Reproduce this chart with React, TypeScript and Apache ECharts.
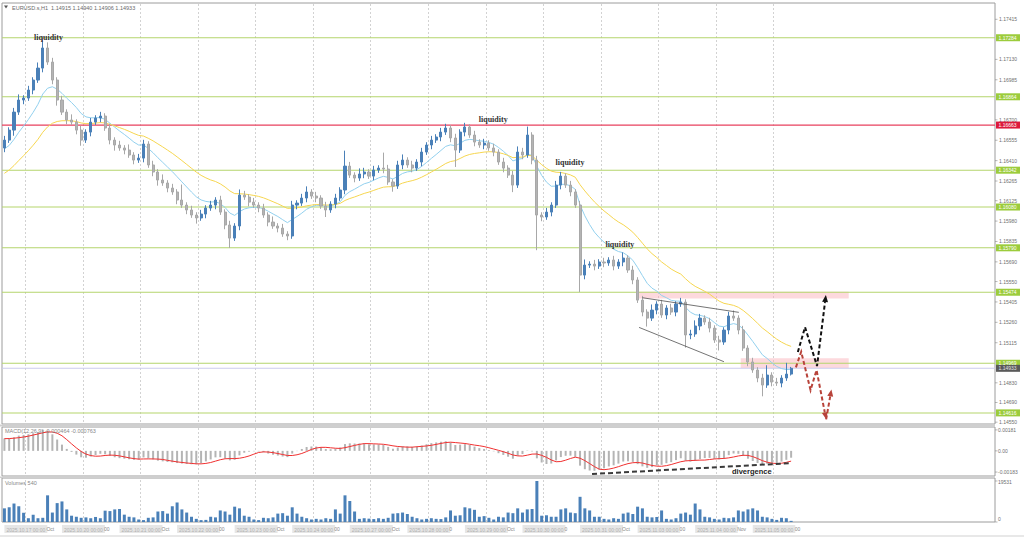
import React, { useEffect, useRef } from "react";
import * as echarts from "echarts";

// ---------- data (EURUSD.s, bars resampled to 2h from the H1 picture) ----------
const dayLabels = ["2025.10.17", "2025.10.20", "2025.10.21", "2025.10.22", "2025.10.23", "2025.10.24", "2025.10.27", "2025.10.28", "2025.10.29", "2025.10.30", "2025.10.31", "2025.11.03", "2025.11.04", "2025.11.05"];
const dayFragments = ["Oct", "00", "Oct", "00", "Oct", "00", "Oct", "0", "Oct", "0", "Oct", "00", "Nov", "00"];
const barsPerDay = 12;
const futureBars = 42;
const firstOpen = 1.165;
const closes = [
  1.16556, 1.16627, 1.16755, 1.16841, 1.16855, 1.16912, 1.16983, 1.17068, 1.17211, 1.17111,
  1.16983, 1.16841, 1.16755, 1.16699, 1.16684, 1.16627, 1.16556, 1.16613, 1.16684, 1.16713,
  1.16727, 1.16642, 1.16556, 1.16521, 1.165, 1.16485, 1.1645, 1.16414, 1.16428, 1.16528,
  1.16379, 1.16329, 1.16272, 1.16251, 1.16215, 1.16187, 1.1613, 1.16094, 1.16059, 1.16023,
  1.16002, 1.1603, 1.16073, 1.16094, 1.1613, 1.16044, 1.15952, 1.15859, 1.15945, 1.16165,
  1.16151, 1.16115, 1.16094, 1.16073, 1.16023, 1.15973, 1.15945, 1.1593, 1.15888, 1.15874,
  1.16094, 1.16108, 1.16144, 1.16187, 1.16158, 1.16144, 1.16087, 1.16059, 1.16101, 1.16144,
  1.16201, 1.16371, 1.16307, 1.16286, 1.16315, 1.16329, 1.163, 1.16343, 1.16357, 1.1635,
  1.16258, 1.16229, 1.16379, 1.16414, 1.16379, 1.16357, 1.164, 1.16471, 1.16521, 1.16556,
  1.16578, 1.16613, 1.16642, 1.16571, 1.16485, 1.16613, 1.16649, 1.16592, 1.16542, 1.16521,
  1.16535, 1.165, 1.16471, 1.164, 1.16357, 1.16307, 1.16236, 1.16471, 1.1645, 1.16592,
  1.16414, 1.16023, 1.16009, 1.16044, 1.16094, 1.16236, 1.163, 1.16236, 1.16187, 1.16094,
  1.15596, 1.15667, 1.15674, 1.1566, 1.15689, 1.15682, 1.15703, 1.1566, 1.15689, 1.15717,
  1.15632, 1.15561, 1.15418, 1.15333, 1.1529, 1.15347, 1.1539, 1.15312, 1.15362, 1.15333,
  1.1539, 1.15404, 1.1517, 1.15177, 1.15234, 1.1529, 1.15262, 1.15219, 1.15134, 1.1512,
  1.15205, 1.15305, 1.1529, 1.15205, 1.15077, 1.14978, 1.14921, 1.14864, 1.14814, 1.14885,
  1.14835, 1.14828, 1.14864, 1.14892, 1.14933,
];
const wickUpPips = [
  3, 2, 3, 4, 2, 3, 2, 4, 7, 4, 3, 2, 3, 2, 4, 2, 3, 2, 3, 2,
  3, 2, 3, 2, 3, 2, 4, 2, 3, 3, 2, 3, 2, 4, 2, 3, 2, 11, 2, 3,
  2, 3, 2, 3, 2, 3, 2, 3, 2, 4, 3, 2, 3, 2, 3, 2, 4, 2, 3, 2,
  3, 2, 3, 4, 2, 3, 2, 3, 2, 3, 2, 11, 3, 2, 4, 3, 2, 3, 2, 11,
  3, 2, 3, 4, 2, 3, 2, 3, 2, 3, 2, 3, 3, 2, 3, 2, 3, 2, 3, 2,
  3, 2, 3, 2, 3, 2, 3, 4, 3, 6, 2, 3, 2, 3, 2, 3, 3, 2, 3, 2,
  3, 4, 2, 3, 2, 3, 2, 3, 2, 4, 2, 3, 2, 3, 2, 4, 2, 3, 2, 3,
  2, 3, 2, 3, 4, 3, 2, 3, 2, 3, 2, 3, 4, 2, 3, 2, 3, 2, 3, 7,
  2, 3, 2, 8, 1,
];
const wickDownPips = [
  3, 2, 4, 2, 3, 2, 3, 2, 3, 2, 3, 4, 2, 3, 2, 3, 4, 2, 3, 2,
  3, 2, 3, 4, 2, 3, 2, 3, 2, 3, 2, 3, 4, 2, 3, 2, 3, 2, 3, 2,
  4, 2, 3, 2, 3, 2, 3, 7, 2, 3, 2, 3, 2, 3, 2, 3, 2, 3, 2, 3,
  2, 3, 2, 3, 2, 3, 2, 5, 2, 3, 2, 3, 2, 3, 2, 3, 2, 3, 2, 3,
  2, 4, 2, 3, 2, 3, 2, 3, 2, 3, 2, 3, 2, 3, 12, 2, 3, 2, 3, 2,
  3, 2, 3, 2, 3, 2, 5, 2, 3, 2, 3, 25, 3, 2, 3, 2, 3, 2, 3, 2,
  12, 3, 2, 3, 2, 3, 2, 3, 2, 3, 2, 3, 2, 3, 6, 2, 3, 2, 3, 2,
  3, 2, 9, 3, 2, 3, 2, 3, 2, 6, 2, 3, 2, 3, 2, 3, 2, 3, 8, 2,
  3, 2, 3, 2, 1,
];
const volumes = [
  6500, 7000, 8800, 7500, 4400, 1800, 3500, 1800, 2000, 12700,
  4500, 9000, 9800, 6000, 3000, 2500, 2000, 2200, 1800, 2400,
  1800, 5400, 5200, 6000, 6200, 3500, 2500, 2200, 1200, 900,
  2000, 2200, 5000, 5200, 4000, 7500, 9300, 6000, 4500, 2500,
  1500, 900, 1000, 2500, 2200, 5500, 5000, 3500, 7300, 6500,
  3000, 2500, 1200, 900, 2000, 1800, 2200, 4000, 4200, 3000,
  7000, 4000, 2500, 1800, 1200, 1500, 1200, 1800, 1500, 6000,
  4000, 12700, 10000, 5000, 1500, 1800, 1600, 1400, 1800, 1500,
  2000, 4000, 4200, 4500, 3800, 2500, 1800, 1200, 1500, 1800,
  1500, 1400, 2200, 5500, 3000, 3200, 7000, 6500, 5800, 2500,
  2800, 2000, 1200, 2500, 2200, 4500, 4200, 6500, 4500, 6000,
  6200, 19531, 3000, 3200, 2500, 2500, 6000, 6500, 4500, 4200,
  12000, 6500, 5500, 2500, 2500, 1500, 1200, 1800, 1500, 4000,
  4500, 3800, 7300, 6500, 2500, 2200, 2400, 5500, 1500, 1200,
  1800, 4000, 4500, 3500, 8800, 6000, 2500, 2200, 1500, 1200,
  2000, 1800, 2200, 5500, 5000, 6000, 6500, 5500, 2500, 2200,
  1500, 1000, 2000, 1800, 540,
];

// indicator settings (MT4 H1 periods halved for 2h bars) and read-off starting values
const maFastPeriod = 10;
const maSlowPeriod = 25;
const maFastSeed = 1.1648;
const maSlowSeed = 1.163;
const macdFastPeriod = 6;
const macdSlowPeriod = 13;
const macdSignalPeriod = 5;
const macdFastSeed = 1.1653;
const macdSlowSeed = 1.1641;
const macdPrior = [0.001, 0.001, 0.0011, 0.0011];

// levels
const greenLevels = [1.17284, 1.16864, 1.16342, 1.1608, 1.1579, 1.15474, 1.14969, 1.14616];
const redLevel = 1.16663;
const lastPrice = 1.14933;
const priceRange = [1.14537, 1.17531];
const priceTicks = [1.17415, 1.1713, 1.16985, 1.167, 1.16555, 1.1641, 1.16265, 1.16125, 1.1598, 1.15835, 1.1569, 1.1555, 1.15405, 1.1526, 1.15115, 1.1483, 1.1469, 1.1455];
const macdRange = [-0.00217, 0.00206];
const macdTicks = [0.00181, 0, -0.00183];
const macdTickLabels = ["0.00181", "0.00", "-0.00183"];
const volumeMax = 20960;
const volumeTicks = [19531, 0];

// annotations: [bar index, price]
const liquidityMarks = [[9.2, 1.17289], [101.9, 1.16699], [117.9, 1.164], [128.3, 1.15817]];
const channelUpper = [[133.0, 1.15435], [153.1, 1.15331]];
const channelLower = [[132.3, 1.15224], [150.0, 1.1498]];
const bullPath = [[165.4, 1.15049], [166.9, 1.15226], [169.4, 1.14949], [171.25, 1.15454]];
const bearPath = [[165.0, 1.1494], [166.1, 1.15051], [168.05, 1.14778], [169.3, 1.14921], [171.3, 1.1457]];
const bearRebound = [[171.3, 1.1457], [172.4, 1.14783]];
const zoneA = [[132.3, 1.15477], [176, 1.1543]];
const zoneB = [[153.5, 1.15005], [176, 1.14935]];
const divergenceLine = [[122.5, -0.002], [163.5, -0.00107]];
const divergenceText = [155.8, -0.00175];
const gridLineIdx = [4.3, 16.3, 28.3, 40.3, 52.3, 64.3, 76.3, 88.3, 100.3, 112.3, 124.3, 136.3, 148.3, 160.3];

const FONT = "Liberation Sans, Arial, sans-serif";

function ema(src: number[], period: number, seed: number) {
  const a = 2 / (period + 1);
  let v = seed;
  return src.map((x) => (v = v + a * (x - v)));
}

export default function App() {
  const ref = useRef<HTMLDivElement>(null);
  useEffect(() => {
    document.body.style.margin = "0";
    const chart = echarts.init(ref.current!, null, { renderer: "svg" });
    const N = closes.length;
    const TOTAL = N + futureBars;
    const cats: string[] = [];
    for (let i = 0; i < TOTAL; i++) {
      if (i < N) {
        const d = dayLabels[Math.floor(i / barsPerDay)];
        const h = (i % barsPerDay) * 2;
        cats.push(`${d} ${String(h).padStart(2, "0")}:00`);
      } else cats.push("");
    }
    const ohlc = closes.map((c, i) => {
      const o = i === 0 ? firstOpen : closes[i - 1];
      const hi = Math.max(o, c) + wickUpPips[i] * 0.0001;
      const lo = Math.min(o, c) - wickDownPips[i] * 0.0001;
      return [o, c, lo, hi];
    });
    const maFast = ema(closes, maFastPeriod, maFastSeed);
    const maSlow = ema(closes, maSlowPeriod, maSlowSeed);
    const f = ema(closes, macdFastPeriod, macdFastSeed);
    const s = ema(closes, macdSlowPeriod, macdSlowSeed);
    const macd = closes.map((_, i) => f[i] - s[i]);
    const hist = [...macdPrior, ...macd];
    const signal = macd.map((_, i) => {
      let sum = 0;
      for (let k = 0; k < macdSignalPeriod; k++) sum += hist[i + macdPrior.length - k];
      return sum / macdSignalPeriod;
    });

    const gridCommon = { left: 2, width: 993, show: true, borderColor: "#9c9c9c", borderWidth: 1, backgroundColor: "transparent", containLabel: false, outerBoundsMode: "none" };

    const option: any = {
      animation: false,
      backgroundColor: "#ffffff",
      grid: [
        { ...gridCommon, top: 3, height: 421 },
        { ...gridCommon, top: 427, height: 49 },
        { ...gridCommon, top: 478, height: 44 },
      ],
      xAxis: [
        { type: "category", gridIndex: 0, data: cats, show: false },
        { type: "category", gridIndex: 1, data: cats, show: false },
        {
          type: "category",
          gridIndex: 2,
          data: cats,
          axisLine: { show: false },
          axisTick: { show: false },
          splitLine: { show: false },
          axisLabel: {
            interval: (_i: number, v: string) => v.endsWith(" 00:00"),
            align: "left",
            fontSize: 5,
            fontFamily: FONT,
            color: "#b0b0b0",
            backgroundColor: "#e6e6e6",
            padding: [2, 2, 1, 2],
            margin: 3,
          },
        },
        { type: "value", gridIndex: 0, min: -0.5, max: TOTAL - 0.5, show: false },
      ],
      yAxis: [
        { type: "value", gridIndex: 0, min: priceRange[0], max: priceRange[1], show: false },
        { type: "value", gridIndex: 1, min: macdRange[0], max: macdRange[1], show: false },
        { type: "value", gridIndex: 2, min: 0, max: volumeMax, show: false },
      ],
      series: [
        {
          type: "candlestick",
          xAxisIndex: 0,
          yAxisIndex: 0,
          data: ohlc,
          barWidth: 2.6,
          itemStyle: { color: "#4a80b8", color0: "#b4b4b4", borderColor: "#4a80b8", borderColor0: "#a8a8a8", borderWidth: 1 },
          z: 3,
        },
        { type: "line", xAxisIndex: 0, yAxisIndex: 0, data: maFast, showSymbol: false, lineStyle: { color: "#92d0ee", width: 1 }, z: 2 },
        { type: "line", xAxisIndex: 0, yAxisIndex: 0, data: maSlow, showSymbol: false, lineStyle: { color: "#f6d650", width: 1 }, z: 2 },
        { type: "bar", xAxisIndex: 1, yAxisIndex: 1, data: macd, barWidth: 2, itemStyle: { color: "#b4b4b4" } },
        { type: "line", xAxisIndex: 1, yAxisIndex: 1, data: signal, showSymbol: false, lineStyle: { color: "#f03030", width: 1 }, z: 4 },
        { type: "bar", xAxisIndex: 2, yAxisIndex: 2, data: volumes, barWidth: 3, itemStyle: { color: "#4a80b8" } },
      ],
    };
    chart.setOption(option);

    const X = (i: number) => chart.convertToPixel({ xAxisIndex: 3 }, i) as number;
    const Y = (v: number) => chart.convertToPixel({ yAxisIndex: 0 }, v) as number;
    const YM = (v: number) => chart.convertToPixel({ yAxisIndex: 1 }, v) as number;
    const YV = (v: number) => chart.convertToPixel({ yAxisIndex: 2 }, v) as number;
    const P = (p: number[]) => [X(p[0]), Y(p[1])];

    const els: any[] = [];
    const txt = (text: string, x: number, y: number, o: any = {}) =>
      els.push({
        type: "text",
        x,
        y,
        z: o.z ?? 100,
        style: { text, fill: o.fill ?? "#707070", fontSize: o.fontSize ?? 5, fontFamily: o.fontFamily ?? FONT, fontWeight: o.fontWeight ?? "normal", align: o.align ?? "left", verticalAlign: o.verticalAlign ?? "middle" },
      });

    // vertical dashed grid lines
    gridLineIdx.forEach((gi) => {
      const x = Math.round(X(gi)) + 0.5;
      els.push({ type: "line", z: 0, shape: { x1: x, y1: 4, x2: x, y2: 521 }, style: { stroke: "#d2d2d2", lineWidth: 1, lineDash: [2, 2] } });
    });
    // horizontal level lines
    const hline = (v: number, color: string, z: number, w: number) => {
      const y = Y(v);
      els.push({ type: "rect", z, shape: { x: 2, y: y - w / 2, width: 993, height: w }, style: { fill: color } });
    };
    greenLevels.forEach((v) => hline(v, "#b5d56c", 1, 1));
    hline(redLevel, "#e8405e", 1, 1.2);
    hline(lastPrice, "#cbcbee", 1, 1);
    // separators
    els.push({ type: "rect", z: 1, shape: { x: 0, y: 424.5, width: 995, height: 2 }, style: { fill: "#cfcfcf" } });
    els.push({ type: "rect", z: 1, shape: { x: 0, y: 476.5, width: 995, height: 1.5 }, style: { fill: "#cfcfcf" } });
    // zones
    [zoneA, zoneB].forEach((z) => {
      const [x1, y1] = P(z[0]);
      const [x2, y2] = P(z[1]);
      els.push({ type: "rect", z: 0, shape: { x: x1, y: y1, width: x2 - x1, height: y2 - y1 }, style: { fill: "rgba(250,170,180,0.45)" } });
    });
    // channel
    [channelUpper, channelLower].forEach((c) => {
      const [x1, y1] = P(c[0]);
      const [x2, y2] = P(c[1]);
      els.push({ type: "line", z: 90, shape: { x1, y1, x2, y2 }, style: { stroke: "#505050", lineWidth: 0.8 } });
    });
    // dashed arrows
    const arrow = (pts: number[][], color: string) => {
      const px = pts.map(P);
      const a = px[px.length - 2];
      const b = px[px.length - 1];
      const dx = b[0] - a[0], dy = b[1] - a[1];
      const L = Math.hypot(dx, dy);
      const ux = dx / L, uy = dy / L;
      const len = 7, hw = 3;
      const bx = b[0] - ux * len, by = b[1] - uy * len;
      const line = px.slice(0, -1).concat([[bx, by]]);
      els.push({ type: "polyline", z: 95, shape: { points: line }, style: { stroke: color, lineWidth: 2, lineDash: [4, 2.5], fill: null } });
      els.push({ type: "polygon", z: 96, shape: { points: [[b[0], b[1]], [bx - uy * hw, by + ux * hw], [bx + uy * hw, by - ux * hw]] }, style: { fill: color } });
    };
    arrow(bearPath, "#b8433a");
    arrow(bearRebound, "#b8433a");
    arrow(bullPath, "#111111");
    // liquidity labels
    liquidityMarks.forEach((m) => txt("liquidity", X(m[0]), Y(m[1]), { fill: "#333333", fontSize: 8, fontFamily: "Liberation Serif, Times New Roman, serif", fontWeight: "bold", align: "center" }));
    // divergence
    {
      const x1 = X(divergenceLine[0][0]), y1 = YM(divergenceLine[0][1]);
      const x2 = X(divergenceLine[1][0]), y2 = YM(divergenceLine[1][1]);
      els.push({ type: "line", z: 95, shape: { x1, y1, x2, y2 }, style: { stroke: "#3a3a3a", lineWidth: 2, lineDash: [5, 3] } });
      txt("divergence", X(divergenceText[0]), YM(divergenceText[1]), { fill: "#222222", fontSize: 7.5, fontWeight: "bold", align: "center" });
    }
    // title & panel captions
    els.push({ type: "polygon", z: 100, shape: { points: [[4, 5.5], [8, 5.5], [6, 8.5]] }, style: { fill: "#555555" } });
    txt("EURUSD.s,H1  1.14915 1.14940 1.14906 1.14933", 12, 7.5, { fill: "#6a6a6a", fontSize: 5.5 });
    txt("MACD(12,26,9) -0.000464 -0.000763", 5, 431, { fill: "#888888", fontSize: 5.5 });
    txt("Volumes 540", 5, 483, { fill: "#888888", fontSize: 5.5 });

    // right axis tick labels
    priceTicks.forEach((v) => {
      const y = Y(v);
      els.push({ type: "line", z: 100, shape: { x1: 995, y1: y, x2: 997.5, y2: y }, style: { stroke: "#888888", lineWidth: 0.6 } });
      txt(v.toFixed(5), 999, y);
    });
    macdTicks.forEach((v, k) => {
      const y = YM(v);
      els.push({ type: "line", z: 100, shape: { x1: 995, y1: y, x2: 997.5, y2: y }, style: { stroke: "#888888", lineWidth: 0.6 } });
      txt(macdTickLabels[k], 998, y);
    });
    volumeTicks.forEach((v) => {
      const y = YV(v);
      els.push({ type: "line", z: 100, shape: { x1: 995, y1: y, x2: 997.5, y2: y }, style: { stroke: "#888888", lineWidth: 0.6 } });
      txt(String(v), 998, v === 0 ? y - 3 : y + 1);
    });
    // level boxes
    const box = (v: number, fillC: string, textC: string) => {
      const y = Y(v);
      els.push({ type: "rect", z: 110, shape: { x: 996, y: y - 3.5, width: 24, height: 7 }, style: { fill: fillC } });
      txt(v.toFixed(5), 998.5, y, { fill: textC, z: 111 });
    };
    greenLevels.forEach((v) => box(v, "#9ccc3c", "#ffffff"));
    box(redLevel, "#dc1a3c", "#ffffff");
    box(lastPrice, "#5a5a5a", "#e0e0e0");

    // time-axis fragments between the date boxes
    dayFragments.forEach((t, d) => {
      txt(t, X(d * barsPerDay) + 42, 528.5, { fill: "#8a8a8a", z: 5 });
    });
    // bottom frame line
    els.push({ type: "rect", z: 0, shape: { x: 0, y: 535, width: 1024, height: 2 }, style: { fill: "#e8e8e8" } });

    chart.setOption({ graphic: { elements: els } });
    return () => chart.dispose();
  }, []);
  return <div ref={ref} style={{ position: "absolute", left: 0, top: 0, width: 1024, height: 537, background: "#ffffff" }} />;
}
